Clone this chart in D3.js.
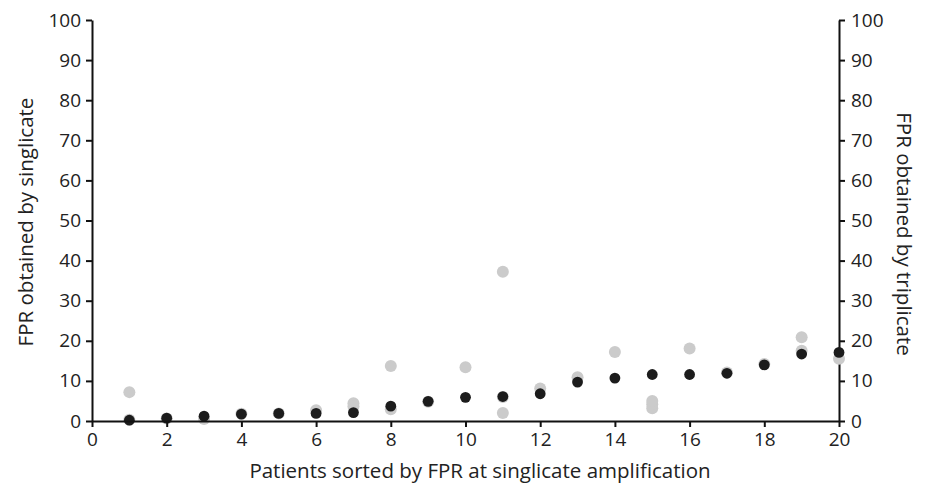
<!DOCTYPE html>
<html>
<head>
<meta charset="utf-8">
<script src="https://cdn.jsdelivr.net/npm/d3@7"></script>
<style>
    body { margin: 0; background: #fff; }
    svg text { font-family: "Open Sans", sans-serif; fill: #222; }
    .axis path, .axis line { stroke: #111; stroke-width: 2; }
    .axis text { font-size: 19px; }
</style>
</head>
<body>
<div id="chart"></div>
<script>
// patients 1..20, sorted by singlicate FPR
var patients = [1, 2, 3, 4, 5, 6, 7, 8, 9, 10, 11, 12, 13, 14, 15, 16, 17, 18, 19, 20];
var singlicate = [0.2, 0.7, 1.2, 1.7, 1.9, 1.9, 2.1, 3.7, 4.9, 5.9, 6.1, 6.8, 9.7, 10.7, 11.6, 11.6, 11.9, 14.0, 16.7, 17.1];

// triplicate replicates (patient, FPR)
var tripPatient = [1, 1, 2, 3, 4, 5, 6, 7, 7, 8, 8, 9, 10, 11, 11, 11, 12, 13, 14, 15, 15, 15, 16, 17, 18, 19, 19, 20];
var tripValue   = [7.2, 0.3, 0.6, 0.5, 1.8, 1.9, 2.7, 4.4, 3.6, 13.7, 2.9, 4.8, 13.4, 37.2, 2.0, 6.0, 8.1, 10.9, 17.2, 3.2, 4.2, 5.0, 18.1, 12.1, 14.2, 20.9, 17.5, 15.5];

var xTicks = d3.range(0, 21, 2);
var yTicks = d3.range(0, 101, 10);

var W = 928, H = 486;
var margins = {top: 20, right: 89, bottom: 65, left: 92},
    width = W - margins.left - margins.right,
    height = H - margins.top - margins.bottom;

var svg = d3.select("#chart").append("svg")
    .attr("width", W)
    .attr("height", H);

var g = svg.append("g")
    .attr("transform", "translate(" + margins.left + "," + margins.top + ")");

var x = d3.scaleLinear().domain([0, 20]).range([0, width]);
var y = d3.scaleLinear().domain([0, 100]).range([height, 0]);

var xAxis = d3.axisBottom(x).tickValues(xTicks).tickSize(6).tickPadding(6).tickSizeOuter(0);
var yLeft = d3.axisLeft(y).tickValues(yTicks).tickSize(6).tickPadding(5).tickSizeOuter(0);
var yRight = d3.axisRight(y).tickValues(yTicks).tickSize(6).tickPadding(6).tickSizeOuter(0);

g.append("g").attr("class", "axis y-left").call(yLeft);
g.append("g").attr("class", "axis y-right")
    .attr("transform", "translate(" + width + ",0)")
    .call(yRight);

// triplicate (grey) under singlicate (black)
var trip = tripPatient.map(function(p, i) { return {p: p, v: tripValue[i]}; });
g.selectAll("circle.trip")
    .data(trip)
    .enter().append("circle")
    .attr("class", "trip")
    .attr("cx", function(d) { return x(d.p); })
    .attr("cy", function(d) { return y(d.v); })
    .attr("r", 6)
    .attr("fill", "#cbcbcb");

g.selectAll("circle.single")
    .data(patients)
    .enter().append("circle")
    .attr("class", "single")
    .attr("cx", function(d) { return x(d); })
    .attr("cy", function(d, i) { return y(singlicate[i]); })
    .attr("r", 5.4)
    .attr("fill", "#1c1c1c");

g.append("g").attr("class", "axis x")
    .attr("transform", "translate(0," + height + ")")
    .call(xAxis);

svg.append("text")
    .attr("x", 480)
    .attr("y", 478)
    .attr("text-anchor", "middle")
    .style("font-size", "20.5px")
    .text("Patients sorted by FPR at singlicate amplification");

svg.append("text")
    .attr("transform", "translate(33,222) rotate(-90)")
    .attr("text-anchor", "middle")
    .style("font-size", "20.5px")
    .text("FPR obtained by singlicate");

svg.append("text")
    .attr("transform", "translate(897,234) rotate(90)")
    .attr("text-anchor", "middle")
    .style("font-size", "20.5px")
    .text("FPR obtained by triplicate");
</script>
</body>
</html>
